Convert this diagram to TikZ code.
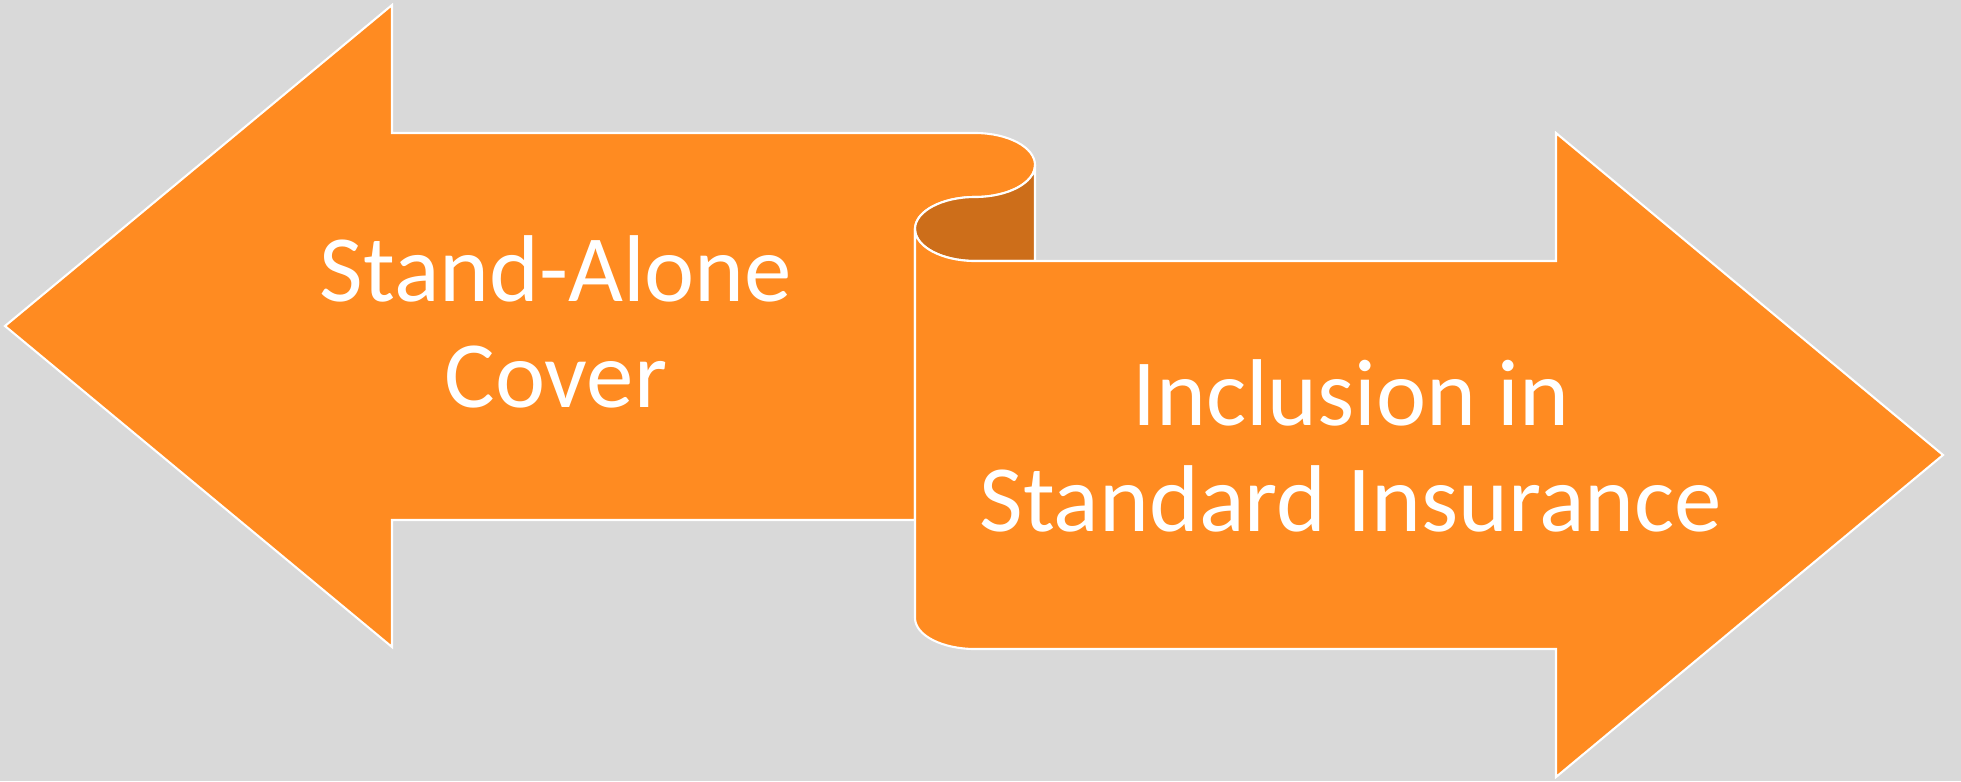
\documentclass[tikz,border=0pt]{standalone}
\usepackage{fontspec}
\setmainfont{Carlito}
\usepackage{xcolor}
\definecolor{panelbg}{RGB}{217,217,217}
\definecolor{arrowfill}{RGB}{255,139,33}
\definecolor{curlshade}{RGB}{205,110,26}
\usepackage{tikz}
\tikzset{
  arrow_body/.style={fill=arrowfill,draw=white,line width=0.6pt,line join=miter},
  curl_back/.style={fill=curlshade,draw=white,line width=0.6pt},
  arrow_label/.style={text=white,align=center,font=\fontsize{27}{30.1}\selectfont,inner sep=0pt},
}

\begin{document}
\begin{tikzpicture}
  \fill[panelbg] (0,0) rectangle (19.61,7.81);
  \useasboundingbox (0,0) rectangle (19.61,7.81);
  % left-pointing arrow, its shaft rolls over at the right end
  \draw[arrow_body] (0.05,4.55) -- (3.92,7.76) -- (3.92,6.48) -- (9.75,6.48)
    arc[start angle=90,end angle=-90,x radius=0.6,y radius=0.32]
    arc[start angle=90,end angle=180,x radius=0.6,y radius=0.32]
    -- (9.15,2.61) -- (3.92,2.61) -- (3.92,1.34) -- cycle;
  % underside of the roll
  \draw[curl_back] (10.35,6.16) -- (10.35,5.20) -- (9.75,5.20)
    arc[start angle=270,end angle=90,x radius=0.6,y radius=0.32]
    arc[start angle=270,end angle=360,x radius=0.6,y radius=0.32] -- cycle;
  % right-pointing arrow
  \draw[arrow_body] (9.15,5.52) -- (9.15,1.63)
    arc[start angle=180,end angle=270,x radius=0.6,y radius=0.31]
    -- (15.56,1.32) -- (15.56,0.04) -- (19.43,3.26) -- (15.56,6.48) -- (15.56,5.20) -- (9.75,5.20)
    arc[start angle=270,end angle=180,x radius=0.6,y radius=0.32] -- cycle;
  \node (standalone) [arrow_label] at (5.56,4.59) {Stand-Alone\\Cover};
  \node (inclusion) [arrow_label] at (13.51,3.35) {Inclusion in\\Standard Insurance};
\end{tikzpicture}
\end{document}
